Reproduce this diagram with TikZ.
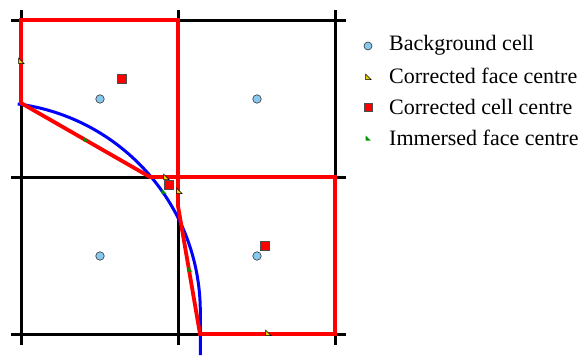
\documentclass[tikz,border=0pt]{standalone}
\usepackage{fontspec}
\setmainfont{Liberation Serif}
\definecolor{bgblue}{RGB}{135,200,240}
\definecolor{faceyel}{RGB}{240,210,0}
\definecolor{immgreen}{RGB}{0,150,0}
\begin{document}
\begin{tikzpicture}[x=1pt,y=-1pt,
  gridline/.style={black,line width=3pt},
  redline/.style={red,line width=3.8pt,line join=miter},
  blueline/.style={blue,line width=3pt},
  bgcell/.style={circle,draw=black!80,fill=bgblue,line width=0.6pt,inner sep=0pt,minimum size=8.5pt},
  cellc/.style={rectangle,draw=black!70,fill=red,line width=0.7pt,inner sep=0pt,minimum size=8.5pt},
  legtext/.style={anchor=west,font=\fontsize{22}{24}\selectfont,inner sep=0pt},
  facetri/.pic={\draw[black,fill=faceyel,line width=0.5pt] (-2.5,-3) -- (-2.5,2.5) -- (3,2.5) -- cycle;},
  immtri/.pic={\fill[immgreen] (-2.5,-2.5) -- (-2.5,2.5) -- (2.5,2.5) -- cycle;}
]
\useasboundingbox (0,0) rectangle (579,356);
% grid coordinates
\coordinate (x0t) at (21,10);  \coordinate (x0b) at (21,345);
\coordinate (x1t) at (178,10); \coordinate (x1b) at (178,345);
\coordinate (x2t) at (335,10); \coordinate (x2b) at (335,345);
\coordinate (y0l) at (11,20);  \coordinate (y0r) at (346,20);
\coordinate (y1l) at (11,177); \coordinate (y1r) at (346,177);
\coordinate (y2l) at (11,334); \coordinate (y2r) at (346,334);
\draw[gridline] (x0t) -- (x0b) (x1t) -- (x1b) (x2t) -- (x2b);
\draw[gridline] (y0l) -- (y0r) (y1l) -- (y1r) (y2l) -- (y2r);
% immersed boundary
\coordinate (cc) at (-9.3,311.8);
\coordinate (bend) at (200.3,355);
\draw[blueline] (cc) ++(82.6:209.6pt) arc[start angle=82.6,end angle=0,radius=209.6pt] -- (bend);
% corrected cells
\coordinate (A) at (21,103);
\coordinate (B) at (150,177);
\coordinate (C) at (178,206);
\coordinate (D) at (200,334);
\coordinate (g00) at (21,20);
\coordinate (g10) at (178,20);
\coordinate (g11) at (178,177);
\coordinate (g21) at (335,177);
\coordinate (g22) at (335,334);
\draw[redline] (A) -- (g00) -- (g10) -- (g11) -- (B) -- cycle;
\draw[redline] (g11) -- (g21) -- (g22) -- (D) -- (C) -- cycle;
% background cell centres
\node[bgcell] (b1) at (100,99) {};
\node[bgcell] (b2) at (257,99) {};
\node[bgcell] (b3) at (100,256) {};
\node[bgcell] (b4) at (257,256) {};
% corrected cell centres
\node[cellc] (c1) at (122,79) {};
\node[cellc] (c2) at (169,185) {};
\node[cellc] (c3) at (265,246) {};
% corrected face centres
\coordinate (f1) at (21,61);
\coordinate (f2) at (166,177);
\coordinate (f3) at (179,191);
\coordinate (f4) at (268,333);
\foreach \p in {f1,f2,f3,f4} \pic at (\p) {facetri};
% immersed face centres
\coordinate (i1) at (86,139);
\coordinate (i2) at (164,191);
\coordinate (i3) at (190,269);
\foreach \p in {i1,i2,i3} \pic at (\p) {immtri};
% legend
\node[bgcell,minimum size=8pt] (l1) at (368,46) {};
\coordinate (l2) at (368,77);
\pic at (l2) {facetri};
\node[cellc,minimum size=8pt] (l3) at (368,107) {};
\coordinate (l4) at (368,138);
\pic at (l4) {immtri};
\node[legtext] (t1) at (389,45) {Background cell};
\node[legtext] (t2) at (389,76) {Corrected face centre};
\node[legtext] (t3) at (389,107) {Corrected cell centre};
\node[legtext] (t4) at (389,138) {Immersed face centre};
\end{tikzpicture}
\end{document}
